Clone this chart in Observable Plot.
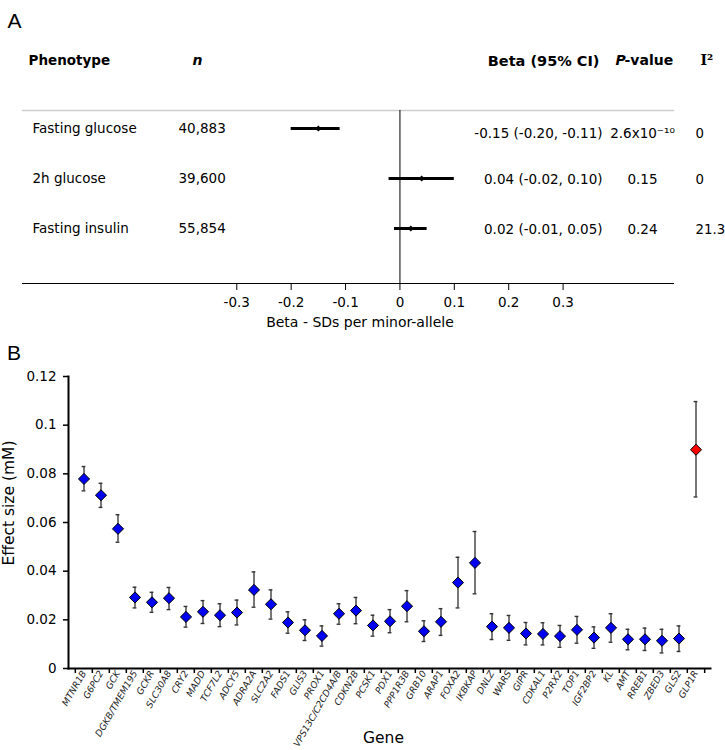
<!DOCTYPE html>
<html>
<head>
<meta charset="utf-8">
<script src="https://cdn.jsdelivr.net/npm/d3@7"></script>
<script src="https://cdn.jsdelivr.net/npm/@observablehq/plot@0.6"></script>
<style>
  body { margin: 0; background: white; }
  #chart { width: 725px; }
  #chart svg { display: block; }
</style>
</head>
<body>
<div id="chart"></div>
<script>
// ---------- Panel A data ----------
const phenotypes = ["Fasting glucose", "2h glucose", "Fasting insulin"];
const sampleSizes = ["40,883", "39,600", "55,854"];
const betas = [-0.15, 0.04, 0.02];
const betaLow = [-0.20, -0.02, -0.01];
const betaHigh = [-0.11, 0.10, 0.05];
const betaText = ["-0.15 (-0.20, -0.11)", "0.04 (-0.02, 0.10)", "0.02 (-0.01, 0.05)"];
const pValueText = ["2.6x10\u207B\u00B9\u2070", "0.15", "0.24"];
const i2Text = ["0", "0", "21.3"];
const forestTicks = [-0.3, -0.2, -0.1, 0, 0.1, 0.2, 0.3];
const forestXLabel = "Beta - SDs per minor-allele";

// ---------- Panel B data ----------
const genes = ["MTNR1B", "G6PC2", "GCK", "DGKB/TMEM195", "GCKR", "SLC30A8", "CRY2", "MADD", "TCF7L2", "ADCY5",
  "ADRA2A", "SLC2A2", "FADS1", "GLIS3", "PROX1", "VPS13C/C2CD4A/B", "CDKN2B", "PCSK1", "PDX1", "PPP1R3B",
  "GRB10", "ARAP1", "FOXA2", "IKBKAP", "DNLZ", "WARS", "GIPR", "CDKAL1", "P2RX2", "TOP1",
  "IGF2BP2", "KL", "AMT", "RREB1", "ZBED3", "GLS2", "GLP1R"];
const effectSize = [0.0779, 0.0712, 0.0574, 0.0292, 0.0272, 0.0289, 0.0212, 0.0233, 0.0219, 0.0230,
  0.0323, 0.0264, 0.0189, 0.0157, 0.0134, 0.0225, 0.0238, 0.0177, 0.0194, 0.0256,
  0.0153, 0.0192, 0.0353, 0.0434, 0.0172, 0.0167, 0.0144, 0.0142, 0.0133, 0.0159,
  0.0127, 0.0167, 0.0120, 0.0120, 0.0114, 0.0123, 0.0899];
const effectLow = [0.0730, 0.0662, 0.0519, 0.0249, 0.0231, 0.0242, 0.0170, 0.0185, 0.0172, 0.0179,
  0.0252, 0.0203, 0.0145, 0.0115, 0.0092, 0.0182, 0.0184, 0.0133, 0.0147, 0.0192,
  0.0111, 0.0136, 0.0249, 0.0307, 0.0119, 0.0116, 0.0097, 0.0097, 0.0087, 0.0104,
  0.0083, 0.0108, 0.0077, 0.0074, 0.0064, 0.0070, 0.0705];
const effectHigh = [0.0830, 0.0761, 0.0632, 0.0334, 0.0313, 0.0333, 0.0255, 0.0279, 0.0266, 0.0281,
  0.0397, 0.0323, 0.0233, 0.0200, 0.0175, 0.0266, 0.0292, 0.0219, 0.0242, 0.0320,
  0.0196, 0.0246, 0.0457, 0.0563, 0.0225, 0.0218, 0.0189, 0.0188, 0.0177, 0.0214,
  0.0171, 0.0225, 0.0161, 0.0166, 0.0161, 0.0175, 0.1097];
const highlightedGenes = ["GLP1R"];
const effectTicks = [0, 0.02, 0.04, 0.06, 0.08, 0.1, 0.12];
const effectYLabel = "Effect size (mM)";
const effectXLabel = "Gene";

// ---------- Build tables ----------
const rows = phenotypes.map((p, i) => ({
  phenotype: p, n: sampleSizes[i], beta: betas[i], lo: betaLow[i], hi: betaHigh[i],
  label: betaText[i], p: pValueText[i], i2: i2Text[i]
}));
const effects = genes.map((g, i) => ({gene: g, effect: effectSize[i], lo: effectLow[i], hi: effectHigh[i]}));

const font = "'DejaVu Sans', Verdana, sans-serif";

// ---------- Panel A ----------
const rightCols = (data, dy) => [
  Plot.text(data, {y: "phenotype", text: "label", frameAnchor: "right", textAnchor: "end", dx: -71, dy}),
  Plot.text(data, {y: "phenotype", text: "p", frameAnchor: "right", textAnchor: "middle", dx: -31, dy}),
  Plot.text(data, {y: "phenotype", text: "i2", frameAnchor: "right", textAnchor: "start", dx: 22, dy, fontSize: 13.3})
];

const plotA = Plot.plot({
  width: 725, height: 335,
  marginTop: 110, marginBottom: 52, marginLeft: 22, marginRight: 52,
  style: {fontFamily: font, fontSize: "13.5px", color: "black", background: "white", overflow: "visible"},
  x: {domain: [-0.694, 0.503]},
  y: {type: "point", domain: phenotypes, padding: 0, insetTop: 17, insetBottom: 55, axis: null},
  marks: [
    Plot.frame({anchor: "top", stroke: "#cfcfcf", strokeWidth: 1.5}),
    Plot.frame({anchor: "bottom", stroke: "black"}),
    Plot.ruleX([0], {stroke: "black", strokeWidth: 1}),
    Plot.axisX({ticks: forestTicks, tickSize: 7, tickPadding: 7, label: null, fontSize: 13.5,
      tickFormat: d => d === 0 ? "0" : d.toFixed(1)}),
    Plot.text([forestXLabel], {text: d => d, frameAnchor: "bottom", textAnchor: "middle", dx: 12, dy: 43, fontSize: 14}),
    Plot.ruleY(rows, {y: "phenotype", x1: "lo", x2: "hi", stroke: "black", strokeWidth: 3.2}),
    Plot.dot(rows, {x: "beta", y: "phenotype", symbol: "diamond2", r: 2.8, fill: "black"}),
    Plot.text(rows, {y: "phenotype", text: "phenotype", frameAnchor: "left", textAnchor: "start", dx: 10}),
    Plot.text(rows, {y: "phenotype", text: "n", frameAnchor: "left", textAnchor: "start", dx: 156}),
    ...rightCols(rows.slice(0, 1), 5),
    ...rightCols(rows.slice(1), 1),
    // header
    Plot.text(["Phenotype"], {text: d => d, frameAnchor: "top-left", textAnchor: "start", dx: 6, dy: -55, fontWeight: "bold", fontSize: 13.5}),
    Plot.text(["n"], {text: d => d, frameAnchor: "top-left", textAnchor: "start", dx: 170, dy: -55, fontWeight: "bold", fontStyle: "italic", fontSize: 14}),
    Plot.text(["Beta (95% CI)"], {text: d => d, frameAnchor: "top-right", textAnchor: "end", dx: -74, dy: -55, fontWeight: "bold", fontSize: 14.5}),
    Plot.text(["P"], {text: d => d, frameAnchor: "top-right", textAnchor: "start", dx: -58, dy: -55, fontWeight: "bold", fontStyle: "italic", fontSize: 14}),
    Plot.text(["-value"], {text: d => d, frameAnchor: "top-right", textAnchor: "start", dx: -49, dy: -55, fontWeight: "bold", fontSize: 14}),
    Plot.text(["I\u00B2"], {text: d => d, frameAnchor: "top-right", textAnchor: "start", dx: 27, dy: -55, fontWeight: "bold", fontSize: 14, fontFamily: "'DejaVu Serif', serif"}),
    Plot.text(["A"], {text: d => d, frameAnchor: "top-left", textAnchor: "start", dx: -15, dy: -97.5, fontSize: 21, fontFamily: "'Liberation Sans', sans-serif"})
  ]
});

// ---------- Panel B ----------
const mL = 68, mR = 15;
const bw = (725 - mL - mR) / genes.length;

const plotB = Plot.plot({
  width: 725, height: 415,
  marginTop: 41, marginBottom: 82, marginLeft: mL, marginRight: mR,
  style: {fontFamily: font, fontSize: "13.5px", color: "black", background: "white", overflow: "visible"},
  x: {type: "band", domain: genes, padding: 0},
  y: {domain: [0, 0.12]},
  color: {type: "identity"},
  marks: [
    Plot.ruleX(effects, {x: "gene", y1: "lo", y2: "hi", stroke: "#555", strokeWidth: 1.6}),
    Plot.tickY(effects, {x: "gene", y: "lo", stroke: "#333", strokeWidth: 1.4, insetLeft: 6.6, insetRight: 6.6}),
    Plot.tickY(effects, {x: "gene", y: "hi", stroke: "#333", strokeWidth: 1.4, insetLeft: 6.6, insetRight: 6.6}),
    Plot.dot(effects, {x: "gene", y: "effect", symbol: "diamond2", r: 5,
      fill: d => highlightedGenes.includes(d.gene) ? "#ff0000" : "#0000f0", stroke: "black", strokeWidth: 1}),
    Plot.frame({anchor: "left", stroke: "black", strokeWidth: 2}),
    Plot.frame({anchor: "bottom", stroke: "black", strokeWidth: 2}),
    Plot.axisY({ticks: effectTicks, tickSize: 5, tickPadding: 7, label: null, fontSize: 13.5, strokeWidth: 1.5,
      tickFormat: d => String(+d.toFixed(2))}),
    Plot.axisX({tickSize: 5, dx: -bw / 2, tickFormat: () => "", label: null, strokeWidth: 1.5}),
    Plot.axisX({ticks: genes.slice(-1), tickSize: 5, dx: bw / 2, tickFormat: () => "", label: null, strokeWidth: 1.5}),
    Plot.axisX({tickSize: 0, tickPadding: 3, tickRotate: -60, label: null, fontSize: 9.2, fontStyle: "italic", fill: "#222"}),
    Plot.text([effectXLabel], {text: d => d, frameAnchor: "bottom", textAnchor: "middle", dx: -6, dy: 74, fontSize: 15.5}),
    Plot.text([effectYLabel], {text: d => d, frameAnchor: "left", textAnchor: "middle", rotate: -90, dx: -59.5, dy: -19.5, fontSize: 15.5}),
    Plot.text(["B"], {text: d => d, frameAnchor: "top-left", textAnchor: "start", dx: -61.5, dy: -31.5, fontSize: 21, fontFamily: "'Liberation Sans', sans-serif"})
  ]
});

document.getElementById("chart").append(plotA, plotB);
</script>
</body>
</html>
